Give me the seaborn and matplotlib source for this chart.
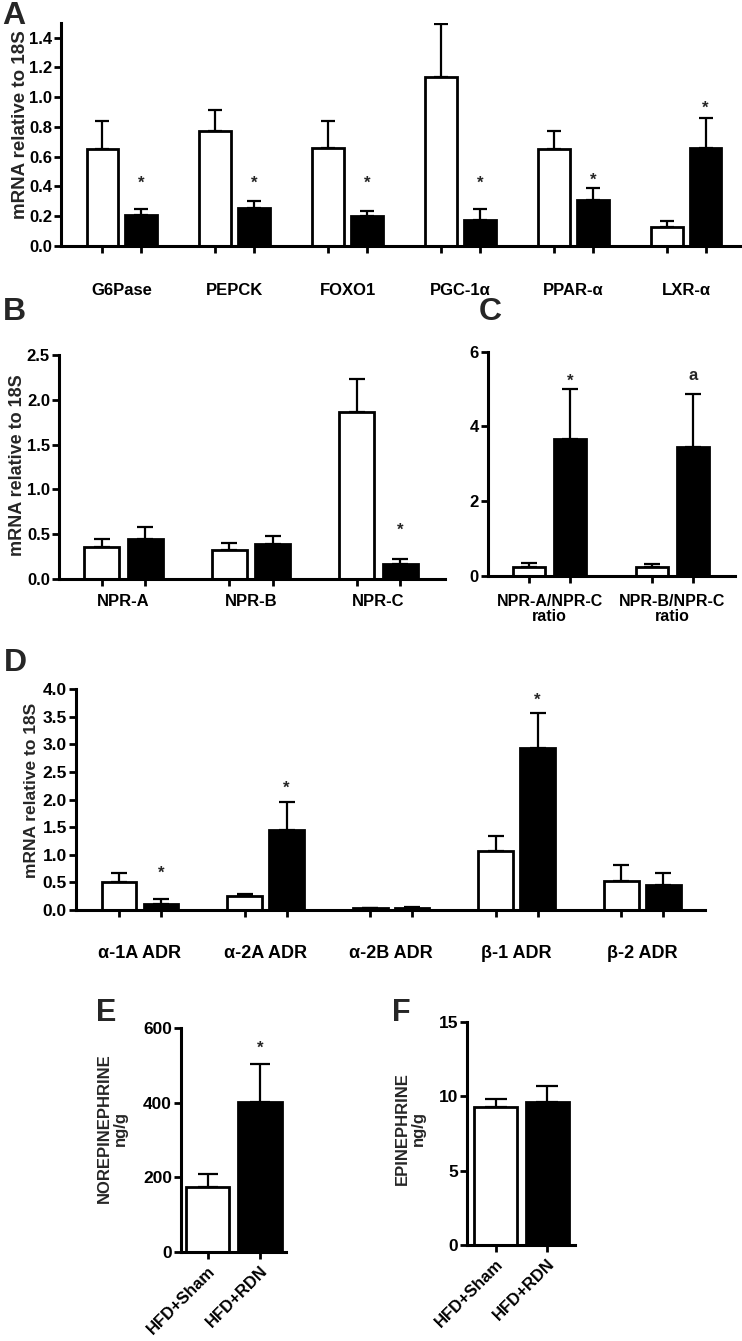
import numpy as np
import pandas as pd
import matplotlib
matplotlib.use("Agg")
import matplotlib.pyplot as plt
import seaborn as sns

# ---------------- data ----------------
groups = ["HFD+Sham", "HFD+RDN"]

a_genes = ["G6Pase", "PEPCK", "FOXO1", "PGC-1α", "PPAR-α", "LXR-α"]
a_sham = [0.649, 0.774, 0.655, 1.136, 0.649, 0.130]
a_sham_sem = [0.190, 0.139, 0.184, 0.354, 0.123, 0.040]
a_rdn = [0.208, 0.253, 0.201, 0.172, 0.306, 0.655]
a_rdn_sem = [0.038, 0.051, 0.036, 0.074, 0.081, 0.206]
a_sig = ["*", "*", "*", "*", "*", "*"]
a_sig_y = [0.447, 0.447, 0.447, 0.447, 0.47, 0.95]

b_genes = ["NPR-A", "NPR-B", "NPR-C"]
b_sham = [0.359, 0.329, 1.864]
b_sham_sem = [0.090, 0.075, 0.370]
b_rdn = [0.442, 0.389, 0.172]
b_rdn_sem = [0.138, 0.090, 0.056]
b_sig = ["", "", "*"]
b_sig_y = [0, 0, 0.59]

c_ratios = ["NPR-A/NPR-C\nratio", "NPR-B/NPR-C\nratio"]
c_sham = [0.242, 0.224]
c_sham_sem = [0.088, 0.081]
c_rdn = [3.65, 3.45]
c_rdn_sem = [1.35, 1.43]
c_sig = ["*", "a"]
c_sig_y = [5.30, 5.33]

d_genes = ["α-1A ADR", "α-2A ADR", "α-2B ADR", "β-1 ADR", "β-2 ADR"]
d_sham = [0.502, 0.251, 0.030, 1.070, 0.526]
d_sham_sem = [0.174, 0.042, 0.008, 0.263, 0.287]
d_rdn = [0.108, 1.453, 0.040, 2.936, 0.448]
d_rdn_sem = [0.089, 0.496, 0.020, 0.628, 0.228]
d_sig = ["*", "*", "", "*", ""]
d_sig_y = [0.735, 2.28, 0, 3.86, 0]

e_vals = [174.6, 403.0]
e_sem = [34.0, 100.0]
e_sig = ["", "*"]
e_sig_y = [0, 555]

f_vals = [9.25, 9.63]
f_sem = [0.55, 1.05]

# ---------------- style ----------------
sns.set_style("ticks")
plt.rcParams["font.family"] = ["Liberation Sans", "DejaVu Sans"]
plt.rcParams["font.weight"] = "bold"
plt.rcParams["axes.labelweight"] = "bold"

W, H = 742, 1341
fig = plt.figure(figsize=(W / 100, H / 100), dpi=100)


def rect(l, t, r, b):
    return [l / W, 1 - b / H, (r - l) / W, (b - t) / H]


def ftext(x, y, s, **kw):
    fig.text(x / W, 1 - y / H, s, ha="center", va="center", **kw)


def style_axes(ax, ytick_fs):
    sns.despine(ax=ax)
    for sp in ["left", "bottom"]:
        ax.spines[sp].set_linewidth(2.2)
        ax.spines[sp].set_color("black")
    ax.tick_params(axis="y", direction="out", length=5, width=2,
                   labelsize=ytick_fs, pad=1.5, colors="black")
    ax.set_xlabel("")
    ax.set_ylabel("")


def add_sig(ax, xs, sigs, ys, fs=12):
    for x, s, y in zip(xs, sigs, ys):
        if not s:
            continue
        off = -0.23 * fs if s == "*" else 0.09 * fs
        ax.annotate(s, (x, y), xytext=(0, off), textcoords="offset points",
                    ha="center", va="center", fontsize=fs, fontweight="bold")


def grouped(ax, cats, sham, sham_sem, rdn, rdn_sem, width, gap, capsize,
            xlim, ylim, yticks, yfmt, xfs, yfs, xpad, sigs, sig_y):
    n = len(cats)
    df = pd.DataFrame({
        "cat": list(cats) * 2,
        "group": [groups[0]] * n + [groups[1]] * n,
        "value": list(sham) + list(rdn),
    })
    sns.barplot(data=df, x="cat", y="value", hue="group", hue_order=groups,
                palette={groups[0]: "white", groups[1]: "black"},
                edgecolor="black", linewidth=2, width=width, gap=gap,
                errorbar=None, legend=False, ax=ax, zorder=2)
    bar_x = []
    black_x = []
    for k, (cont, sems) in enumerate(zip(ax.containers, [sham_sem, rdn_sem])):
        for bar, s in zip(cont, sems):
            xc = bar.get_x() + bar.get_width() / 2
            bar_x.append(xc)
            if k == 1:
                black_x.append(xc)
            ax.errorbar(xc, bar.get_height(), yerr=[[0], [s]], fmt="none",
                        ecolor="black", elinewidth=1.6, capsize=capsize,
                        capthick=1.6, zorder=1.5)
    style_axes(ax, yfs)
    ax.set_xlim(*xlim)
    ax.set_ylim(*ylim)
    ax.set_yticks(yticks)
    ax.set_yticklabels([yfmt.format(v) for v in yticks])
    ax.set_xticks(range(n))
    ax.set_xticklabels(cats, fontsize=xfs, fontweight="bold")
    ax.set_xticks(sorted(bar_x), minor=True)
    ax.tick_params(axis="x", which="major", length=0, pad=xpad, colors="black")
    ax.tick_params(axis="x", which="minor", length=5, width=2, direction="out",
                   colors="black")
    add_sig(ax, black_x, sigs, sig_y)


def single(ax, vals, sems, capsize, xlim, ylim, yticks):
    df = pd.DataFrame({"group": groups, "value": vals})
    sns.barplot(data=df, x="group", y="value", hue="group", hue_order=groups,
                palette={groups[0]: "white", groups[1]: "black"},
                edgecolor="black", linewidth=2, width=0.82,
                errorbar=None, legend=False, ax=ax, zorder=2)
    xs = []
    for bar, s in zip(ax.patches, sems):
        xc = bar.get_x() + bar.get_width() / 2
        xs.append(xc)
        ax.errorbar(xc, bar.get_height(), yerr=[[0], [s]], fmt="none",
                    ecolor="black", elinewidth=1.6, capsize=capsize,
                    capthick=1.6, zorder=1.5)
    style_axes(ax, 12.5)
    ax.set_xlim(*xlim)
    ax.set_ylim(*ylim)
    ax.set_yticks(yticks)
    ax.set_yticklabels([str(v) for v in yticks])
    ax.set_xticks(range(len(groups)))
    ax.set_xticklabels(groups, rotation=45, ha="right", rotation_mode="anchor",
                       fontsize=12, fontweight="bold")
    ax.tick_params(axis="x", direction="out", length=5, width=2, pad=3,
                   colors="black")
    return xs


# ---------------- Panel A ----------------
axA = fig.add_axes(rect(61, 22.7, 740, 246))
grouped(axA, a_genes, a_sham, a_sham_sem, a_rdn, a_rdn_sem, 0.69, 0.18, 5,
        (-0.54, 5.478), (0, 1.5), [0, 0.2, 0.4, 0.6, 0.8, 1.0, 1.2, 1.4],
        "{:.1f}", 12, 12, 26.5, a_sig, a_sig_y)
ftext(21, 125, "mRNA relative to 18S", rotation=90, fontsize=13.5,
      fontweight="bold")
ftext(14, 16, "A", fontsize=23, fontweight="bold")

# ---------------- Panel B ----------------
axB = fig.add_axes(rect(59, 355, 445, 579))
grouped(axB, b_genes, b_sham, b_sham_sem, b_rdn, b_rdn_sem, 0.684, 0.2, 5.5,
        (-0.504, 2.52), (0, 2.5), [0, 0.5, 1.0, 1.5, 2.0, 2.5],
        "{:.1f}", 12, 12, 11, b_sig, b_sig_y)
ftext(18, 465, "mRNA relative to 18S", rotation=90, fontsize=13,
      fontweight="bold")
ftext(14, 312, "B", fontsize=23, fontweight="bold")

# ---------------- Panel C ----------------
axC = fig.add_axes(rect(488, 351.7, 735, 575.7))
grouped(axC, c_ratios, c_sham, c_sham_sem, c_rdn, c_rdn_sem, 0.66, 0.21, 5.5,
        (-0.502, 1.509), (0, 6), [0, 2, 4, 6],
        "{:d}", 11.5, 12, 13, c_sig, c_sig_y)
for lab in axC.get_xticklabels():
    lab.set_linespacing(1.05)
ftext(490, 312, "C", fontsize=23, fontweight="bold")

# ---------------- Panel D ----------------
axD = fig.add_axes(rect(76, 689, 705, 910))
grouped(axD, d_genes, d_sham, d_sham_sem, d_rdn, d_rdn_sem, 0.668, 0.17, 5.5,
        (-0.51, 4.5), (0, 4.0), [0, 0.5, 1.0, 1.5, 2.0, 2.5, 3.0, 3.5, 4.0],
        "{:.1f}", 13, 12.5, 25, d_sig, d_sig_y)
ftext(32, 790, "mRNA relative to 18S", rotation=90, fontsize=12.5,
      fontweight="bold")
ftext(15, 663, "D", fontsize=23, fontweight="bold")

# ---------------- Panel E ----------------
axE = fig.add_axes(rect(181, 1028, 286, 1252))
xsE = single(axE, e_vals, e_sem, 7.5, (-0.505, 1.495), (0, 600),
             [0, 200, 400, 600])
add_sig(axE, xsE, e_sig, e_sig_y)
ftext(112, 1128, "NOREPINEPHRINE\nng/g", rotation=90, fontsize=12,
      fontweight="bold", linespacing=1.1)
ftext(106, 1013, "E", fontsize=22, fontweight="bold")

# ---------------- Panel F ----------------
axF = fig.add_axes(rect(467, 1022, 575, 1245))
single(axF, f_vals, f_sem, 8, (-0.55, 1.533), (0, 15), [0, 5, 10, 15])
ftext(410, 1129, "EPINEPHRINE\nng/g", rotation=90, fontsize=12,
      fontweight="bold", linespacing=1.1)
ftext(401, 1013, "F", fontsize=22, fontweight="bold")

fig.savefig("out.png", dpi=100, facecolor="white")
